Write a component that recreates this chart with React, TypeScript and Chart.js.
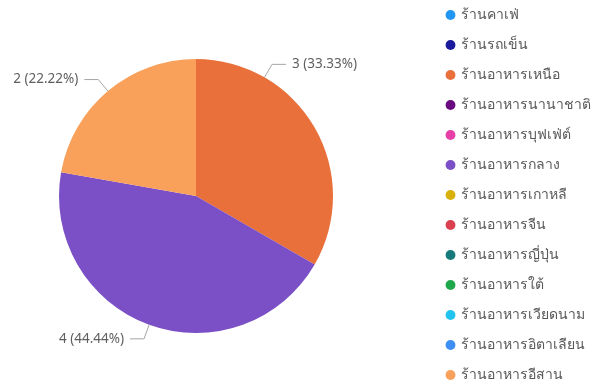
import React, { useEffect, useRef } from "react";
import { Chart, registerables } from "chart.js";

Chart.register(...registerables);

const categories = [
  "ร้านคาเฟ่",
  "ร้านรถเข็น",
  "ร้านอาหารเหนือ",
  "ร้านอาหารนานาชาติ",
  "ร้านอาหารบุฟเฟ่ต์",
  "ร้านอาหารกลาง",
  "ร้านอาหารเกาหลี",
  "ร้านอาหารจีน",
  "ร้านอาหารญี่ปุ่น",
  "ร้านอาหารใต้",
  "ร้านอาหารเวียดนาม",
  "ร้านอาหารอิตาเลียน",
  "ร้านอาหารอีสาน",
];

const counts = [0, 0, 3, 0, 0, 4, 0, 0, 0, 0, 0, 0, 2];

const colors = [
  "#2196F5",
  "#1A1A9C",
  "#E9703A",
  "#6A0A80",
  "#E63FA6",
  "#7B4FC6",
  "#D8B00A",
  "#D9414E",
  "#177A7A",
  "#1EA84A",
  "#22C4EF",
  "#3D8EF5",
  "#F9A05B",
];

// where along each slice the leader line starts (fraction of the slice)
const leaderAnchor = [0.5, 0.5, 0.25, 0.5, 0.5, 0.5, 0.5, 0.5, 0.5, 0.5, 0.5, 0.5, 0.5];

const FONT = "'Segoe UI', 'Noto Sans', 'Open Sans', sans-serif";

const layoutPlugin = {
  id: "customLayout",
  afterLayout(chart: any) {
    chart.chartArea = { left: 59, top: 59, right: 333, bottom: 333, width: 274, height: 274 };
    const lg = chart.legend;
    if (lg) {
      const w = lg.width;
      lg.left = 431;
      lg.right = lg.left + w;
      lg.top = -8;
      lg.bottom = 2000;
    }
  },
};

const labelPlugin = {
  id: "leaderLabels",
  afterDatasetsDraw(chart: any) {
    const ctx = chart.ctx;
    const meta = chart.getDatasetMeta(0);
    const data = chart.data.datasets[0].data as number[];
    const total = data.reduce((a: number, b: number) => a + b, 0);
    ctx.save();
    ctx.font = `13.5px ${FONT}`;
    ctx.fillStyle = "#5f5f5f";
    ctx.strokeStyle = "#a6a6a6";
    ctx.lineWidth = 1;
    meta.data.forEach((arc: any, i: number) => {
      const v = data[i];
      if (!v) return;
      const { x, y, startAngle, endAngle, outerRadius } = arc.getProps(
        ["x", "y", "startAngle", "endAngle", "outerRadius"],
        true
      );
      const a = startAngle + (endAngle - startAngle) * leaderAnchor[i];
      const cos = Math.cos(a);
      const sin = Math.sin(a);
      const px = x + cos * outerRadius;
      const py = y + sin * outerRadius;
      const qx = x + cos * (outerRadius + 15);
      const qy = y + sin * (outerRadius + 15);
      const right = cos >= 0;
      const hx = qx + (right ? 14 : -14);
      ctx.beginPath();
      ctx.moveTo(px, py);
      ctx.lineTo(qx, qy);
      ctx.lineTo(hx, qy);
      ctx.stroke();
      const pct = ((v / total) * 100).toFixed(2);
      const text = `${v} (${pct}%)`;
      ctx.textBaseline = "middle";
      ctx.textAlign = right ? "left" : "right";
      ctx.fillText(text, hx + (right ? 6 : -6), qy);
    });
    ctx.restore();
  },
};

const bgPlugin = {
  id: "whiteBg",
  beforeDraw(chart: any) {
    const ctx = chart.ctx;
    ctx.save();
    ctx.fillStyle = "#ffffff";
    ctx.fillRect(0, 0, chart.width, chart.height);
    ctx.restore();
  },
};

export default function App() {
  const ref = useRef<HTMLCanvasElement | null>(null);
  useEffect(() => {
    if (!ref.current) return;
    const chart = new Chart(ref.current, {
      type: "pie",
      data: {
        labels: categories,
        datasets: [
          {
            data: counts,
            backgroundColor: colors,
            borderWidth: 0,
          },
        ],
      },
      options: {
        animation: false,
        responsive: false,
        maintainAspectRatio: false,
        plugins: {
          legend: {
            position: "right",
            align: "start",
            labels: {
              usePointStyle: true,
              pointStyle: "circle",
              boxWidth: 7,
              boxHeight: 7,
              padding: 16,
              color: "#595959",
              font: { size: 14, family: FONT },
            },
          },
          tooltip: { enabled: false },
        },
      },
      plugins: [bgPlugin, layoutPlugin, labelPlugin],
    });
    return () => chart.destroy();
  }, []);
  return (
    <div style={{ position: "fixed", left: 0, top: 0, width: 596, height: 389 }}>
      <canvas ref={ref} width={596} height={389} style={{ width: 596, height: 389 }} />
    </div>
  );
}
